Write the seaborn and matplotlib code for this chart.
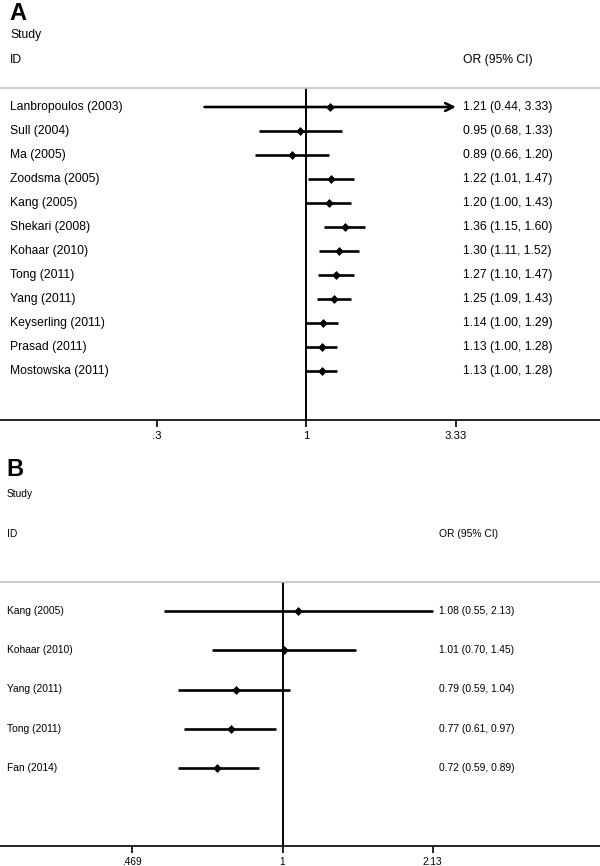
import matplotlib
matplotlib.use("Agg")
import matplotlib.pyplot as plt
import matplotlib.transforms as mtrans
import seaborn as sns
import pandas as pd
import numpy as np

# ---------------- data ----------------
a_studies = ["Lanbropoulos (2003)", "Sull (2004)", "Ma (2005)", "Zoodsma (2005)",
             "Kang (2005)", "Shekari (2008)", "Kohaar (2010)", "Tong (2011)",
             "Yang (2011)", "Keyserling (2011)", "Prasad (2011)", "Mostowska (2011)"]
a_or = [1.21, 0.95, 0.89, 1.22, 1.20, 1.36, 1.30, 1.27, 1.25, 1.14, 1.13, 1.13]
a_lo = [0.44, 0.68, 0.66, 1.01, 1.00, 1.15, 1.11, 1.10, 1.09, 1.00, 1.00, 1.00]
a_hi = [3.33, 1.33, 1.20, 1.47, 1.43, 1.60, 1.52, 1.47, 1.43, 1.29, 1.28, 1.28]
a_ticks = [0.3, 1, 3.33]
a_ticklabels = [".3", "1", "3.33"]

b_studies = ["Kang (2005)", "Kohaar (2010)", "Yang (2011)", "Tong (2011)", "Fan (2014)"]
b_or = [1.08, 1.01, 0.79, 0.77, 0.72]
b_lo = [0.55, 0.70, 0.59, 0.61, 0.59]
b_hi = [2.13, 1.45, 1.04, 0.97, 0.89]
b_ticks = [0.469, 1, 2.13]
b_ticklabels = [".469", "1", "2.13"]

# ---------------- figure ----------------
sns.set_theme(style="white")
plt.rcParams['font.family'] = ['Liberation Sans', 'DejaVu Sans']
plt.rcParams['text.color'] = 'black'
W, H = 600, 866
fig = plt.figure(figsize=(W / 100, H / 100), dpi=100)


def fx(px):
    return px / W


def fy(py):
    return 1 - py / H


def panel(letter, studies, ors, los, his, ticks, ticklabels,
          top_px, bot_px, first_row_px, row_step, x1_px, px_per_log,
          letter_y, study_y, id_y, lab_x, txt_x, fs, tfs, arrow_idx=None):
    ax = fig.add_axes([0, fy(bot_px), 1, (bot_px - top_px) / H])
    ax.set_xscale("log")
    left = np.exp(-x1_px / px_per_log)
    right = np.exp((W - x1_px) / px_per_log)
    ax.set_xlim(left, right)
    n = len(studies)
    ytop = (top_px - first_row_px) / row_step
    ybot = (bot_px - first_row_px) / row_step
    ax.set_ylim(ybot, ytop)

    df = pd.DataFrame({"study": studies, "OR": ors, "lo": los, "hi": his,
                       "row": np.arange(n)})
    for i, r in df.iterrows():
        if arrow_idx is not None and i == arrow_idx:
            ax.annotate("", xy=(r.hi, r.row), xytext=(r.lo, r.row),
                        arrowprops=dict(arrowstyle="->", lw=1.9, color="black",
                                        mutation_scale=14, shrinkA=0, shrinkB=0))
        else:
            ax.hlines(r.row, r.lo, r.hi, color="black", lw=1.9, zorder=2)
    ax.axvline(1, color="black", lw=1.4, zorder=1)
    sns.scatterplot(data=df, x="OR", y="row", marker="D", s=16, color="black",
                    edgecolor="black", linewidth=0.5, ax=ax, zorder=3, legend=False)

    ax.set_xticks(ticks)
    ax.set_xticklabels(ticklabels)
    ax.xaxis.set_minor_locator(matplotlib.ticker.NullLocator())
    ax.set_yticks([])
    ax.set_xlabel("")
    ax.set_ylabel("")
    for s in ["left", "right"]:
        ax.spines[s].set_visible(False)
    ax.spines["top"].set_color("#c4c4c4")
    ax.spines["top"].set_linewidth(1.2)
    ax.spines["bottom"].set_color("black")
    ax.spines["bottom"].set_linewidth(1.2)
    ax.tick_params(axis="x", direction="out", length=5, width=1.2, colors="black",
                   labelsize=tfs, pad=3, bottom=True)

    tr = mtrans.blended_transform_factory(ax.transAxes, ax.transData)
    for i, r in df.iterrows():
        ax.text(fx(lab_x), r.row, r.study, transform=tr,
                ha="left", va="center", fontsize=fs, color="black")
        ax.text(fx(txt_x), r.row, f"{r.OR:.2f} ({r.lo:.2f}, {r.hi:.2f})",
                transform=tr, ha="left", va="center", fontsize=fs, color="black")

    fig.text(fx(lab_x - 1), fy(letter_y), letter, color="black",
             fontsize=17, fontweight="bold", ha="left", va="center")
    fig.text(fx(lab_x), fy(study_y), "Study", fontsize=fs, ha="left", va="center", color="black")
    fig.text(fx(lab_x), fy(id_y), "ID", fontsize=fs, ha="left", va="center", color="black")
    fig.text(fx(txt_x), fy(id_y), "OR (95% CI)", fontsize=fs, ha="left", va="center", color="black")
    return ax


panel("A", a_studies, a_or, a_lo, a_hi, a_ticks, a_ticklabels,
      top_px=88, bot_px=420, first_row_px=107, row_step=24,
      x1_px=306.5, px_per_log=124.2, letter_y=14, study_y=35, id_y=60,
      lab_x=10, txt_x=463, fs=8.7, tfs=8.2, arrow_idx=0)

panel("B", b_studies, b_or, b_lo, b_hi, b_ticks, b_ticklabels,
      top_px=582, bot_px=846, first_row_px=611, row_step=39.25,
      x1_px=282.5, px_per_log=198.5, letter_y=470, study_y=494, id_y=534,
      lab_x=7, txt_x=439, fs=7.4, tfs=7.2)

fig.savefig("out.png", dpi=100)
